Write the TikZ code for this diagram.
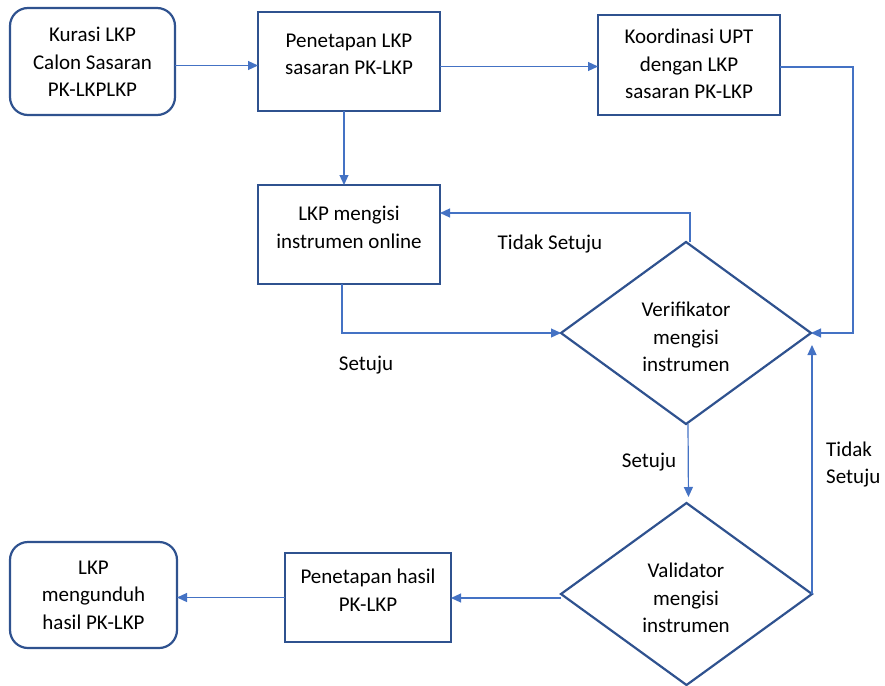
\documentclass[tikz,border=0pt]{standalone}
\usepackage{fontspec}
\setmainfont{Carlito}
\usetikzlibrary{shapes.geometric,arrows.meta}
\definecolor{boxblue}{HTML}{2F528F}
\definecolor{lineblue}{HTML}{4472C4}
\tikzset{
    box/.style={draw=boxblue, line width=2.2pt, rectangle, outer sep=0pt},
    roundbox/.style={box, rounded corners=18pt},
    decision/.style={draw=boxblue, line width=2.2pt, diamond, outer sep=0pt, inner sep=0pt},
    txt/.style={align=center, font=\fontsize{21}{27.5}\selectfont, inner sep=0pt},
    conn/.style={draw=lineblue, line width=1.2pt, -{Triangle[length=10pt,width=9pt]}}
}
\begin{document}
\begin{tikzpicture}[x=1pt, y=-1pt]
    \useasboundingbox (0,0) rectangle (885,685);
    % boxes
    \node[roundbox, minimum width=165, minimum height=107] (kurasi) at (92.5,61.5) {};
    \node[box, minimum width=182, minimum height=99] (penlkp) at (349,61.5) {};
    \node[box, minimum width=182, minimum height=100] (koord) at (689,65) {};
    \node[box, minimum width=182, minimum height=99] (isi) at (349,234.5) {};
    \node[decision, minimum width=250, minimum height=182] (verif) at (686,333) {};
    \node[decision, minimum width=251, minimum height=182] (valid) at (686.5,594) {};
    \node[box, minimum width=166, minimum height=89] (hasil) at (368,597.5) {};
    \node[roundbox, minimum width=167, minimum height=106] (unduh) at (93.5,595) {};
    % texts
    \node[txt] (kurasitxt) at (92.5,62) {Kurasi LKP\\Calon Sasaran\\PK-LKPLKP};
    \node[txt] (penlkptxt) at (349,54.5) {Penetapan LKP\\sasaran PK-LKP};
    \node[txt] (koordtxt) at (689,64) {Koordinasi UPT\\dengan LKP\\sasaran PK-LKP};
    \node[txt] (isitxt) at (349,227.5) {LKP mengisi\\instrumen online};
    \node[txt] (veriftxt) at (686,337) {Verifikator\\mengisi\\instrumen};
    \node[txt] (validtxt) at (686,598) {Validator\\mengisi\\instrumen};
    \node[txt] (hasiltxt) at (368,590) {Penetapan hasil\\PK-LKP};
    \node[txt] (unduhtxt) at (93.5,595) {LKP\\mengunduh\\hasil PK-LKP};
    % labels
    \node[txt] (tidak1) at (550,244) {Tidak Setuju};
    \node[txt] (setuju1) at (366,365) {Setuju};
    \node[txt] (setuju2) at (649,462) {Setuju};
    \node[txt, align=left, anchor=west] (tidak2) at (826,464.5) {Tidak\\Setuju};
    % connectors
    \coordinate (kcorner) at (853,333);
    \draw[conn] ([yshift=-4pt]kurasi.east) -- ([yshift=-4pt]kurasi.east -| penlkp.west);
    \draw[conn] ([yshift=-5pt]penlkp.east) -- ([yshift=-5pt]penlkp.east -| koord.west);
    \draw[conn] ([yshift=-2pt]koord.east) -| (kcorner) -- (verif.east);
    \draw[conn] ([xshift=-5pt]penlkp.south) -- ([xshift=-5pt]isi.north);
    \draw[conn] ([xshift=4pt]verif.north) |- ([yshift=-28pt]isi.north east);
    \draw[conn] ([xshift=-7pt]isi.south) |- (verif.west);
    \draw[conn, shorten >=6pt] ([xshift=2pt]verif.south) -- ([xshift=2pt]valid.north);
    \draw[conn] (valid.east) -- ([yshift=-12pt]verif.east -| valid.east);
    \draw[conn] ([yshift=-4pt]valid.west) -- ([yshift=-4pt]valid.west -| hasil.east);
    \draw[conn] (hasil.west) -- (hasil.west -| unduh.east);
\end{tikzpicture}
\end{document}
